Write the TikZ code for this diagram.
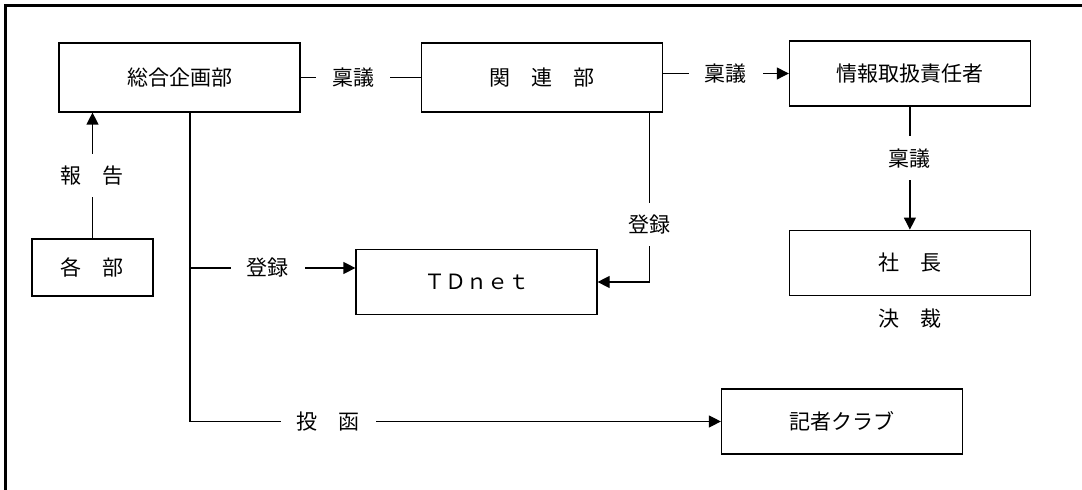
\documentclass[tikz,border=0pt]{standalone}
\usepackage{fontspec}
\setmainfont{Noto Sans CJK JP}
\usetikzlibrary{positioning, arrows.meta}

\begin{document}
\begin{tikzpicture}[x=0.5pt, y=-0.5pt, >={Triangle[length=6pt,width=6pt]}, line width=0.6pt,
    font=\fontsize{10.5pt}{12pt}\selectfont,
    box/.style={draw, minimum width=120.5pt, minimum height=32.5pt, inner sep=0pt},
    lbl/.style={fill=white, inner xsep=8pt, inner ysep=6pt}]
    \useasboundingbox (0,0) rectangle (1082,490);
    \draw[line width=1.5pt] (5,490) -- (5,5.5) -- (1082,5.5);

    \node[box, minimum height=34.5pt] (gen) at (179.5,77.5) {総合企画部};
    \node[box, minimum height=34.5pt] (rel) [right=60pt of gen] {関　連　部};
    \node[box] (info) [right=63pt of rel, yshift=2pt] {情報取扱責任者};
    \node[box] (pres) [below=61.5pt of info] {社　長};
    \node (dec) [below=3pt of pres] {決　裁};
    \node[box, minimum width=60.5pt, minimum height=28.5pt] (each) at (92.5,267.5) {各　部};
    \node[box] (td) at (476.5,282) {ＴＤｎｅｔ};
    \node[box] (club) at (842,421.5) {記者クラブ};

    \coordinate (tap) at (190,268);

    \draw (gen) -- node[lbl, pos=.44] {稟議} (rel);
    \draw[->] (rel.east |- info) -- node[lbl] {稟議} (info);
    \draw[->] (info) -- node[lbl, pos=.42] {稟議} (info |- pres.north);
    \draw[->] (each) -- node[lbl] {報　告} (each |- gen.south);
    \draw[->] ([xshift=5.25pt]gen.south) |- node[lbl, pos=.63] {投　函} (club);
    \draw[->] (tap) -- node[lbl, pos=.47] {登録} (tap -| td.west);
    \draw[->] ([xshift=-6.5pt]rel.south east) |- node[lbl, pos=.33] {登録} (td);
\end{tikzpicture}
\end{document}
